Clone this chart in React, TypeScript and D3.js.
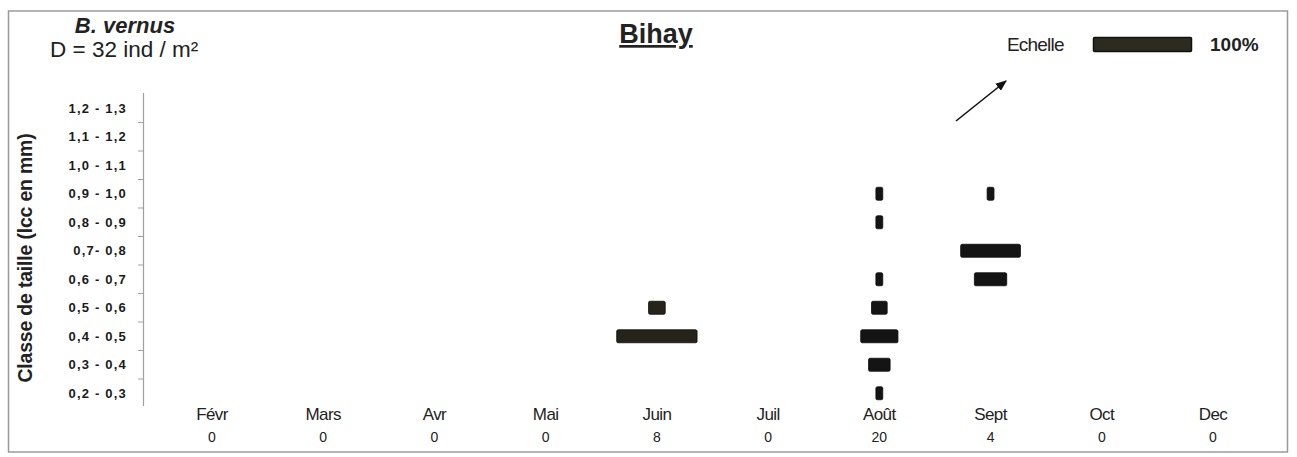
import React from "react";
import * as d3 from "d3";

// ---- data ----
const sizeClasses = [
  "1,2 - 1,3",
  "1,1 - 1,2",
  "1,0 - 1,1",
  "0,9 - 1,0",
  "0,8 - 0,9",
  "0,7- 0,8",
  "0,6 - 0,7",
  "0,5 - 0,6",
  "0,4 - 0,5",
  "0,3 - 0,4",
  "0,2 - 0,3",
];
const months = ["Févr", "Mars", "Avr", "Mai", "Juin", "Juil", "Août", "Sept", "Oct", "Dec"];
const counts = [0, 0, 0, 0, 8, 0, 20, 4, 0, 0];
// percentage of individuals per size class (same order as sizeClasses)
const juinPct = [0, 0, 0, 0, 0, 0, 0, 17, 82, 0, 0];
const aoutPct = [0, 0, 0, 7, 7, 0, 7, 16, 38, 22, 7];
const septPct = [0, 0, 0, 7, 0, 61, 33, 0, 0, 0, 0];
const monthSeries = [
  { month: "Juin", values: juinPct, fill: "#25231a" },
  { month: "Août", values: aoutPct, fill: "#141414" },
  { month: "Sept", values: septPct, fill: "#141414" },
];
const scaleValue = 100;

const W = 1297;
const H = 457;
const FONT = "'Liberation Sans', Arial, Helvetica, sans-serif";

export default function App() {
  const x = d3.scalePoint<string>().domain(months).range([212, 1213]);
  const y = d3.scaleBand<string>().domain(sizeClasses).range([94, 407.5]).padding(0);
  const w = d3.scaleLinear().domain([0, 100]).range([0, 98]);
  const barH = 13;
  const bw = y.bandwidth();
  const boundaries = sizeClasses.slice(1).map((c) => y(c) as number);

  return (
    <svg
      width={W}
      height={H}
      style={{ position: "absolute", left: 0, top: 0, background: "#fff" }}
      fontFamily={FONT}
    >
      <rect x={0} y={0} width={W} height={H} fill="#fff" />
      {/* frame */}
      <rect x={8.5} y={11} width={1279} height={441} fill="none" stroke="#9a9a9a" strokeWidth={1.5} />

      {/* header texts */}
      <text x={125} y={33} textAnchor="middle" fontSize={22} fontWeight="bold" fontStyle="italic" fill="#222">
        B. vernus
      </text>
      <text x={50} y={57} fontSize={22.5} fill="#222">
        D = 32 ind / m²
      </text>
      <text x={656} y={43} textAnchor="middle" fontSize={27} fontWeight="bold" fill="#222" textDecoration="underline">
        Bihay
      </text>

      {/* scale legend */}
      <text x={1007} y={51} fontSize={19} fill="#222" letterSpacing={-0.8}>
        Echelle
      </text>
      <rect x={1093.5} y={37.5} width={w(scaleValue)} height={14} fill="#2c2b1f" stroke="#111" strokeWidth={1.5} rx={1} />
      <text x={1210} y={51} fontSize={19} fontWeight="bold" fill="#222">
        {scaleValue}%
      </text>

      {/* arrow */}
      <defs>
        <marker id="ah" viewBox="0 0 10 10" refX={9} refY={5} markerWidth={7} markerHeight={7} orient="auto">
          <path d="M0,1 L10,5 L0,9 Z" fill="#111" />
        </marker>
      </defs>
      <line x1={956} y1={121} x2={1006} y2={81} stroke="#111" strokeWidth={1.6} markerEnd="url(#ah)" />

      {/* y axis */}
      <line x1={143.5} y1={93} x2={143.5} y2={406} stroke="#a0a0a0" strokeWidth={1.2} />
      {boundaries.map((b, i) => (
        <line key={i} x1={138} x2={143.5} y1={b} y2={b} stroke="#a0a0a0" strokeWidth={1} />
      ))}
      {sizeClasses.map((c) => (
        <text
          key={c}
          x={127}
          y={(y(c) as number) + bw / 2 + 4.5}
          textAnchor="end"
          fontSize={13}
          fontWeight="bold"
          letterSpacing={1.2}
          fill="#1a1a1a"
          style={{ whiteSpace: "pre" }}
        >
          {c}
        </text>
      ))}
      <text
        transform={`translate(32,${258}) rotate(-90)`}
        textAnchor="middle"
        fontSize={19.5}
        fontWeight="bold"
        fill="#222"
        letterSpacing={-0.2}
      >
        Classe de taille (lcc en mm)
      </text>

      {/* bars */}
      {monthSeries.map((s) =>
        s.values.map((v, i) =>
          v > 0 ? (
            <rect
              key={s.month + i}
              x={(x(s.month) as number) - w(v) / 2}
              y={(y(sizeClasses[i]) as number) + bw / 2 - barH / 2}
              width={w(v)}
              height={barH}
              rx={1.5}
              fill={s.fill}
              stroke="#0d0d0d"
              strokeWidth={0.8}
            />
          ) : null
        )
      )}

      {/* month labels and counts */}
      {months.map((m, i) => (
        <g key={m}>
          <text x={x(m)} y={420} textAnchor="middle" fontSize={17} fill="#222" letterSpacing={-0.6}>
            {m}
          </text>
          <text x={x(m)} y={442} textAnchor="middle" fontSize={14} fill="#222">
            {counts[i]}
          </text>
        </g>
      ))}
    </svg>
  );
}
